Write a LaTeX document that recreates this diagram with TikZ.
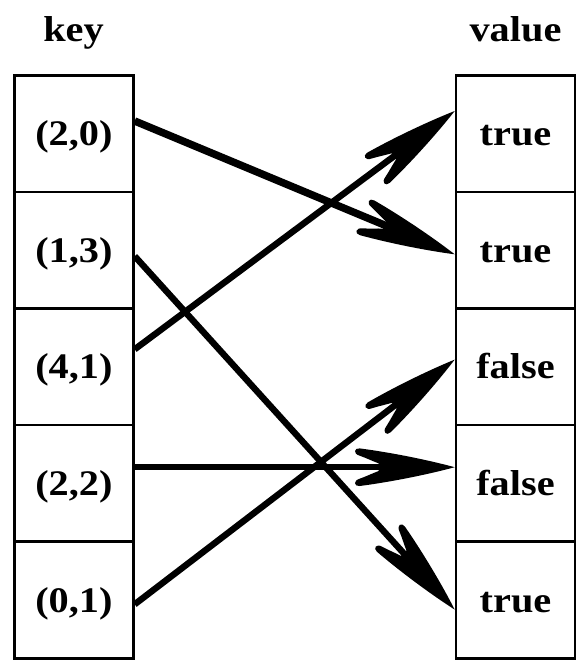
\documentclass[tikz,border=0pt]{standalone}
\usepackage{fontspec}
\setmainfont{Liberation Serif}[FakeStretch=1.12]
\usetikzlibrary{arrows.meta}
\pgfdeclarearrow{
  name = Fig,
  setup code = {
    \pgfarrowssettipend{0pt}
    \pgfarrowssetlineend{-68pt}
    \pgfarrowssetbackend{-102pt}
    \pgfarrowshullpoint{0pt}{0pt}
    \pgfarrowshullpoint{-102pt}{20pt}
    \pgfarrowshullpoint{-102pt}{-20pt}
  },
  drawing code = {
    \pgfpathmoveto{\pgfqpoint{0pt}{0pt}}
    \pgfpathcurveto{\pgfqpoint{-25pt}{6.8pt}}{\pgfqpoint{-62pt}{14.5pt}}{\pgfqpoint{-95pt}{18.8pt}}
    \pgfpathcurveto{\pgfqpoint{-100.5pt}{19.5pt}}{\pgfqpoint{-102pt}{13.5pt}}{\pgfqpoint{-95pt}{11.5pt}}
    \pgfpathcurveto{\pgfqpoint{-88pt}{9pt}}{\pgfqpoint{-82pt}{6pt}}{\pgfqpoint{-76pt}{3.8pt}}
    \pgfpathlineto{\pgfqpoint{-76pt}{-3.8pt}}
    \pgfpathcurveto{\pgfqpoint{-82pt}{-6pt}}{\pgfqpoint{-88pt}{-9pt}}{\pgfqpoint{-95pt}{-11.5pt}}
    \pgfpathcurveto{\pgfqpoint{-102pt}{-13.5pt}}{\pgfqpoint{-100.5pt}{-19.5pt}}{\pgfqpoint{-95pt}{-18.8pt}}
    \pgfpathcurveto{\pgfqpoint{-62pt}{-14.5pt}}{\pgfqpoint{-25pt}{-6.8pt}}{\pgfqpoint{0pt}{0pt}}
    \pgfpathclose
    \pgfusepathqfill
  }
}
\tikzset{
  cell/.style={draw, line width=2.6pt, rectangle, minimum width=119pt, minimum height=116.6pt,
    inner sep=0pt, font=\fontsize{36}{40}\selectfont\bfseries, text height=25pt, text depth=1pt},
  head/.style={anchor=base, font=\fontsize{36}{40}\selectfont\bfseries},
  link/.style={line width=6.4pt, -{Fig}},
  thicklink/.style={link, line width=7.5pt}
}
\begin{document}
\begin{tikzpicture}[x=1pt, y=-1pt]
\useasboundingbox (0,0) rectangle (581,667);
\node[head] (hk) at (73.5,41.7) {key};
\node[head] (hv) at (515.5,41.7) {value};
\node[cell] (k1) at (73.9,133.6) {(2,0)};
\node[cell] (k2) at (73.9,250.2) {(1,3)};
\node[cell] (k3) at (73.9,366.8) {(4,1)};
\node[cell] (k4) at (73.9,483.4) {(2,2)};
\node[cell] (k5) at (73.9,600.0) {(0,1)};
\node[cell] (v1) at (515.5,133.6) {true};
\node[cell] (v2) at (515.5,250.2) {true};
\node[cell] (v3) at (515.5,366.8) {false};
\node[cell] (v4) at (515.5,483.4) {false};
\node[cell] (v5) at (515.5,600.0) {true};
\draw[thicklink] ([yshift=12.6pt]k1.east) -- ([yshift=-4.1pt]v2.west);
\draw[link] ([yshift=-6pt]k2.east) -- ([yshift=-9.6pt]v5.west);
\draw[link] ([yshift=17.5pt]k3.east) -- ([yshift=22.6pt]v1.west);
\draw[link] ([yshift=16.2pt]k4.east) -- ([yshift=16.2pt]v4.west);
\draw[link] ([yshift=-4.3pt]k5.east) -- ([yshift=7.2pt]v3.west);
\end{tikzpicture}
\end{document}
